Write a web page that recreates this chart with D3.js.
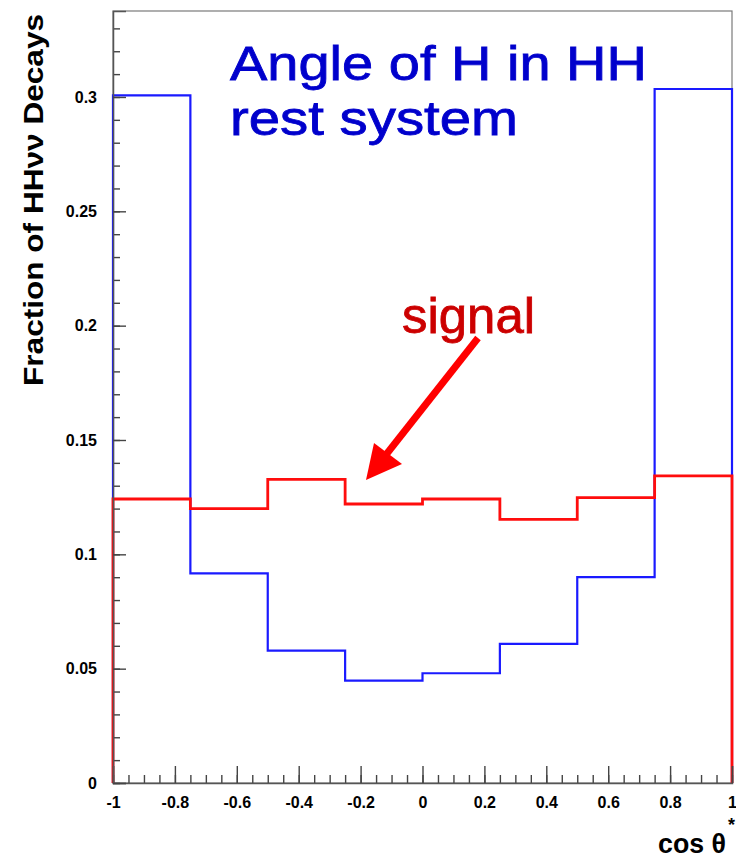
<!DOCTYPE html>
<html>
<head>
<meta charset="utf-8">
<script src="https://cdn.jsdelivr.net/npm/d3@7"></script>
<style>
  html, body { margin: 0; padding: 0; background: #fff; }
  svg { display: block; }
</style>
</head>
<body>
<svg id="chart" width="736" height="859"></svg>
<script>
// Bin edges in cos(theta*), 8 bins of width 0.25
const binEdges = [-1, -0.75, -0.5, -0.25, 0, 0.25, 0.5, 0.75, 1];
// Fraction of HHνν decays per bin
const backgroundValues = [0.3007, 0.0917, 0.0579, 0.0448, 0.0480, 0.0608, 0.0900, 0.3035];
const signalValues     = [0.1242, 0.1200, 0.1328, 0.1220, 0.1242, 0.1153, 0.1248, 0.1343];

const xTickValues = [-1, -0.8, -0.6, -0.4, -0.2, 0, 0.2, 0.4, 0.6, 0.8, 1];
const xTickLabels = ["-1", "-0.8", "-0.6", "-0.4", "-0.2", "0", "0.2", "0.4", "0.6", "0.8", "1"];
const yTickValues = [0, 0.05, 0.1, 0.15, 0.2, 0.25, 0.3];
const yTickLabels = ["0", "0.05", "0.1", "0.15", "0.2", "0.25", "0.3"];

const xRange = [-1, 1];
const yRange = [0, 0.3376];

const frame = { left: 113, right: 732, top: 11, bottom: 783 };
const svg = d3.select("#chart");

const x = d3.scaleLinear().domain(xRange).range([frame.left, frame.right]);
const y = d3.scaleLinear().domain(yRange).range([frame.bottom, frame.top]);

// Frame
svg.append("rect")
  .attr("x", frame.left).attr("y", frame.top)
  .attr("width", frame.right - frame.left).attr("height", frame.bottom - frame.top)
  .attr("fill", "none").attr("stroke", "#7a7a7a").attr("stroke-width", 1.2);

// Histogram outline: starts and ends on the x axis
function histPoints(values) {
  const pts = [[binEdges[0], 0]];
  values.forEach((v, i) => {
    pts.push([binEdges[i], v]);
    pts.push([binEdges[i + 1], v]);
  });
  pts.push([binEdges[binEdges.length - 1], 0]);
  return pts;
}
const line = d3.line().x(d => x(d[0])).y(d => y(d[1]));

svg.append("path")
  .attr("d", line(histPoints(backgroundValues)))
  .attr("fill", "none").attr("stroke", "#1a1aff").attr("stroke-width", 2.2)
  .attr("stroke-linejoin", "miter");

svg.append("path")
  .attr("d", line(histPoints(signalValues)))
  .attr("fill", "none").attr("stroke", "#ff0d0d").attr("stroke-width", 2.8)
  .attr("stroke-linejoin", "miter");

// X axis: ticks pointing into the frame
const xMinor = d3.range(-1, 1.0001, 0.05).map(v => +v.toFixed(2));
svg.append("g")
  .attr("transform", `translate(0,${frame.bottom})`)
  .call(d3.axisBottom(x).tickValues(xMinor).tickSize(-8).tickFormat(""))
  .call(g => g.select(".domain").remove());
svg.append("g")
  .attr("class", "xaxis")
  .attr("transform", `translate(0,${frame.bottom})`)
  .call(d3.axisBottom(x).tickValues(xTickValues).tickSize(-17).tickPadding(14)
    .tickFormat((d, i) => xTickLabels[i]))
  .call(g => g.select(".domain").attr("stroke", "#555").attr("stroke-width", 1.5));

// Y axis: ticks pointing into the frame
const yMinor = d3.range(0, 0.335, 0.01).map(v => +v.toFixed(2));
svg.append("g")
  .attr("transform", `translate(${frame.left},0)`)
  .call(d3.axisLeft(y).tickValues(yMinor).tickSize(-7).tickFormat(""))
  .call(g => g.select(".domain").remove());
svg.append("g")
  .attr("class", "yaxis")
  .attr("transform", `translate(${frame.left},0)`)
  .call(d3.axisLeft(y).tickValues(yTickValues).tickSize(-13).tickPadding(16)
    .tickFormat((d, i) => yTickLabels[i]))
  .call(g => g.select(".domain").attr("stroke", "#555").attr("stroke-width", 1.5));

svg.selectAll(".tick line").attr("stroke", "#444").attr("stroke-width", 1.4);
svg.selectAll(".xaxis text, .yaxis text")
  .attr("fill", "#000")
  .style("font-family", "'Liberation Sans', Arial, sans-serif")
  .style("font-weight", "bold")
  .style("font-size", "16px");

// Axis titles
svg.append("text")
  .attr("transform", "translate(43,200) rotate(-90)")
  .attr("text-anchor", "middle")
  .attr("textLength", 372).attr("lengthAdjust", "spacingAndGlyphs")
  .style("font-family", "'Liberation Sans', Arial, sans-serif")
  .style("font-weight", "bold").style("font-size", "28px")
  .text("Fraction of HHνν Decays");

const xt = svg.append("text")
  .attr("x", 658).attr("y", 853)
  .style("font-family", "'Liberation Sans', Arial, sans-serif")
  .style("font-weight", "bold").style("font-size", "28px");
xt.append("tspan").attr("textLength", 68).attr("lengthAdjust", "spacingAndGlyphs").text("cos θ");
xt.append("tspan").attr("dy", -22).attr("dx", 2).style("font-size", "18px").text("*");

// Annotation
const handFont = "'Comic Sans MS', 'Liberation Sans', sans-serif";
svg.append("text")
  .attr("x", 230).attr("y", 80)
  .attr("textLength", 417).attr("lengthAdjust", "spacingAndGlyphs")
  .attr("fill", "#0000cc").attr("stroke", "#0000cc").attr("stroke-width", 0.8)
  .style("font-family", handFont).style("font-size", "48px")
  .text("Angle of H in HH");
svg.append("text")
  .attr("x", 230).attr("y", 135)
  .attr("textLength", 288).attr("lengthAdjust", "spacingAndGlyphs")
  .attr("fill", "#0000cc").attr("stroke", "#0000cc").attr("stroke-width", 0.8)
  .style("font-family", handFont).style("font-size", "48px")
  .text("rest system");

svg.append("text")
  .attr("x", 402).attr("y", 333)
  .attr("textLength", 133).attr("lengthAdjust", "spacingAndGlyphs")
  .attr("fill", "#cc0000").attr("stroke", "#cc0000").attr("stroke-width", 0.8)
  .style("font-family", handFont).style("font-size", "50px")
  .text("signal");

// Arrow pointing at the signal histogram
svg.append("line")
  .attr("x1", 478).attr("y1", 338).attr("x2", 385).attr("y2", 456)
  .attr("stroke", "#ff0000").attr("stroke-width", 7);
svg.append("path")
  .attr("d", "M366,480 L374,443 L402,464 Z")
  .attr("fill", "#ff0000");
</script>
</body>
</html>
